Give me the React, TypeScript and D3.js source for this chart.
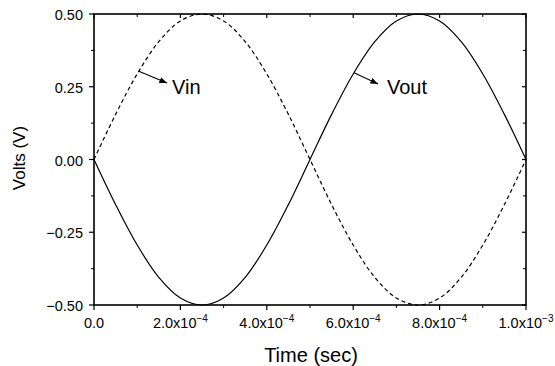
import React from "react";
import * as d3 from "d3";

// time samples (sec) and voltages
const timeSec = [
  0, 0.5e-4, 1.0e-4, 1.5e-4, 2.0e-4, 2.5e-4, 3.0e-4, 3.5e-4, 4.0e-4, 4.5e-4, 5.0e-4,
  5.5e-4, 6.0e-4, 6.5e-4, 7.0e-4, 7.5e-4, 8.0e-4, 8.5e-4, 9.0e-4, 9.5e-4, 1.0e-3,
];
const vinVolts = [
  0, 0.155, 0.294, 0.405, 0.476, 0.5, 0.476, 0.405, 0.294, 0.155, 0,
  -0.155, -0.294, -0.405, -0.476, -0.5, -0.476, -0.405, -0.294, -0.155, 0,
];
const voutVolts = [
  0, -0.155, -0.294, -0.405, -0.476, -0.5, -0.476, -0.405, -0.294, -0.155, 0,
  0.155, 0.294, 0.405, 0.476, 0.5, 0.476, 0.405, 0.294, 0.155, 0,
];

const xMajorTicks = [0, 2e-4, 4e-4, 6e-4, 8e-4, 1e-3];
const xTickBase = ["0.0", "2.0x10", "4.0x10", "6.0x10", "8.0x10", "1.0x10"];
const xTickExp = ["", "\u22124", "\u22124", "\u22124", "\u22124", "\u22123"];
const xMinorTicks = [1e-4, 3e-4, 5e-4, 7e-4, 9e-4];
const yMajorTicks = [-0.5, -0.25, 0, 0.25, 0.5];
const yTickLabels = ["\u22120.50", "\u22120.25", "0.00", "0.25", "0.50"];
const yMinorTicks = [-0.375, -0.125, 0.125, 0.375];

// where the arrows leave the curves
const vinArrowAt = 1.04e-4;
const voutArrowAt = 6.02e-4;

const W = 555;
const H = 366;
const m = { left: 94, right: 526, top: 14, bottom: 305 };
const font = "'Liberation Sans', Arial, sans-serif";

export default function App() {
  const x = d3.scaleLinear().domain([0, 1e-3]).range([m.left, m.right]);
  const y = d3.scaleLinear().domain([-0.5, 0.5]).range([m.bottom, m.top]);

  const line = d3
    .line<number>()
    .x((_, i) => x(timeSec[i]))
    .y((d) => y(d))
    .curve(d3.curveCatmullRom.alpha(0.5));

  const interp = (arr: number[], t: number) => {
    const i = d3.bisectRight(timeSec, t) - 1;
    const f = (t - timeSec[i]) / (timeSec[i + 1] - timeSec[i]);
    return arr[i] + f * (arr[i + 1] - arr[i]);
  };

  const vinStart = [x(vinArrowAt), y(interp(vinVolts, vinArrowAt))];
  const voutStart = [x(voutArrowAt), y(interp(voutVolts, voutArrowAt))];

  return (
    <svg
      width={W}
      height={H}
      style={{ position: "absolute", left: 0, top: 0, background: "white" }}
      fontFamily={font}
    >
      <defs>
        <marker id="ah" viewBox="0 0 10 10" refX="10" refY="5" markerWidth="7" markerHeight="7" orient="auto">
          <path d="M0,1 L10,5 L0,9 z" fill="#000" />
        </marker>
      </defs>

      {/* curves */}
      <path d={line(vinVolts) || ""} fill="none" stroke="#000" strokeWidth={1.2} strokeDasharray="4,3" />
      <path d={line(voutVolts) || ""} fill="none" stroke="#000" strokeWidth={1.2} />

      {/* frame */}
      <rect
        x={m.left}
        y={m.top}
        width={m.right - m.left}
        height={m.bottom - m.top}
        fill="none"
        stroke="#000"
        strokeWidth={1.6}
      />

      {/* x ticks */}
      {xMajorTicks.map((t, i) => (
        <g key={"xm" + i}>
          <line x1={x(t)} x2={x(t)} y1={m.bottom} y2={m.bottom + 5} stroke="#000" strokeWidth={1.2} />
          <line x1={x(t)} x2={x(t)} y1={m.top} y2={m.top + 4} stroke="#000" strokeWidth={1.2} />
          <text x={x(t)} y={328} textAnchor="middle" fontSize={14.5}>
            {xTickBase[i]}
            {xTickExp[i] && (
              <tspan dy={-6} fontSize={10}>
                {xTickExp[i]}
              </tspan>
            )}
          </text>
        </g>
      ))}
      {xMinorTicks.map((t, i) => (
        <g key={"xn" + i}>
          <line x1={x(t)} x2={x(t)} y1={m.bottom} y2={m.bottom + 3} stroke="#000" strokeWidth={1} />
          <line x1={x(t)} x2={x(t)} y1={m.top} y2={m.top + 3} stroke="#000" strokeWidth={1} />
        </g>
      ))}

      {/* y ticks */}
      {yMajorTicks.map((v, i) => (
        <g key={"ym" + i}>
          <line x1={m.left - 5} x2={m.left} y1={y(v)} y2={y(v)} stroke="#000" strokeWidth={1.2} />
          <line x1={m.right - 4} x2={m.right} y1={y(v)} y2={y(v)} stroke="#000" strokeWidth={1.2} />
          <text x={83} y={y(v) + 6} textAnchor="end" fontSize={14.5}>
            {yTickLabels[i]}
          </text>
        </g>
      ))}
      {yMinorTicks.map((v, i) => (
        <g key={"yn" + i}>
          <line x1={m.left - 3} x2={m.left} y1={y(v)} y2={y(v)} stroke="#000" strokeWidth={1} />
          <line x1={m.right - 3} x2={m.right} y1={y(v)} y2={y(v)} stroke="#000" strokeWidth={1} />
        </g>
      ))}

      {/* axis titles */}
      <text x={311} y={362} textAnchor="middle" fontSize={20}>
        Time (sec)
      </text>
      <text transform={`translate(25, 158) rotate(-90)`} textAnchor="middle" fontSize={17}>
        Volts (V)
      </text>

      {/* annotations */}
      <line
        x1={vinStart[0]}
        y1={vinStart[1]}
        x2={167}
        y2={83}
        stroke="#000"
        strokeWidth={1.1}
        markerEnd="url(#ah)"
      />
      <text x={172} y={94} fontSize={20}>
        Vin
      </text>
      <line
        x1={voutStart[0]}
        y1={voutStart[1]}
        x2={378}
        y2={84}
        stroke="#000"
        strokeWidth={1.1}
        markerEnd="url(#ah)"
      />
      <text x={387} y={94} fontSize={20}>
        Vout
      </text>
    </svg>
  );
}
